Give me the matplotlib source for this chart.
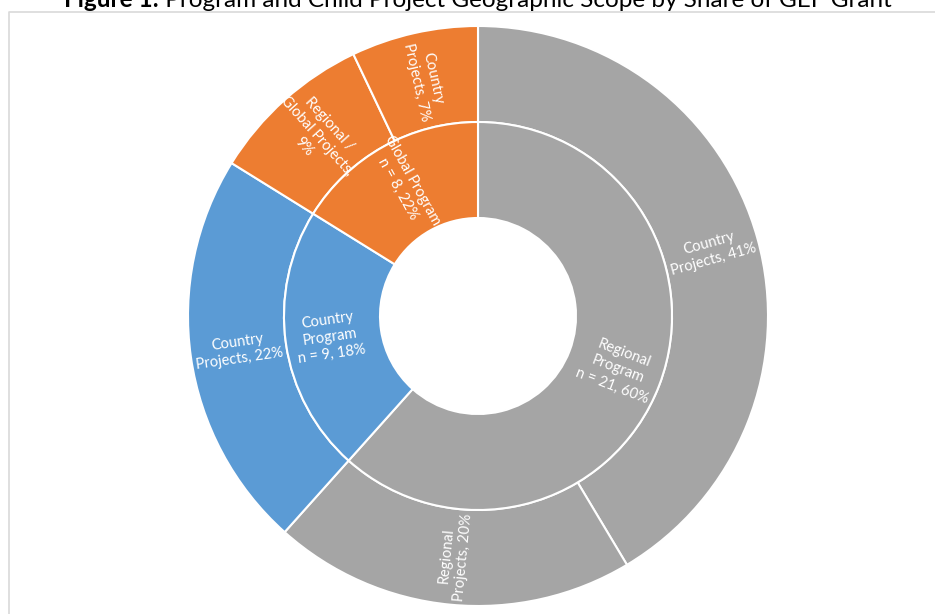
import matplotlib
matplotlib.use("Agg")
import matplotlib.pyplot as plt
import numpy as np

plt.rcParams['font.family'] = ['Lato', 'DejaVu Sans']

# outer ring: child projects (share of GEF grant)
outer_labels = ["Country\nProjects, 41%", "Regional\nProjects, 20%", "Country\nProjects, 22%",
                "Regional /\nGlobal Projects,\n9%", "Country\nProjects, 7%"]
outer_values = [41, 20, 22, 9, 7]
outer_colors = ["#A5A5A5", "#A5A5A5", "#5B9BD5", "#ED7D31", "#ED7D31"]

# inner ring: programs
inner_labels = ["Regional\nProgram\nn = 21, 60%", "Country\nProgram\nn = 9, 18%", "Global Program\nn = 8, 22%"]
inner_values = [61, 22, 16]
inner_colors = ["#A5A5A5", "#5B9BD5", "#ED7D31"]

title_bold = "Figure 1:"
title_rest = " Program and Child Project Geographic Scope by Share of GEF Grant"

W, H = 935, 614
fig = plt.figure(figsize=(W / 100, H / 100), dpi=100)
ax = fig.add_axes([0, 0, 1, 1])
ax.set_xlim(0, W)
ax.set_ylim(0, H)
ax.set_aspect('equal')
ax.axis('off')

cx, cy = 478, H - 316
r_out, r_mid, r_hole = 290, 194, 98

ax.pie(outer_values, colors=outer_colors, radius=r_out, center=(cx, cy), startangle=90,
       counterclock=False, wedgeprops=dict(width=r_out - r_mid, edgecolor='white', linewidth=1.5))
ax.pie(inner_values, colors=inner_colors, radius=r_mid, center=(cx, cy), startangle=90,
       counterclock=False, wedgeprops=dict(width=r_mid - r_hole, edgecolor='white', linewidth=1.5))
ax.set_xlim(0, W)
ax.set_ylim(0, H)


def put_labels(values, labels, radius):
    total = float(sum(values))
    cum = 0
    for v, lab in zip(values, labels):
        mid = (cum + v / 2) / total
        cum += v
        theta = 90 - 360 * mid
        x = cx + radius * np.cos(np.radians(theta))
        y = cy + radius * np.sin(np.radians(theta))
        rot = (theta + 180) % 360 - 180
        if rot > 90:
            rot -= 180
        elif rot <= -90:
            rot += 180
        ax.text(x, y, lab, color='white', fontsize=10.5, ha='center', va='center',
                multialignment='center', rotation=rot, rotation_mode='anchor', linespacing=1.3)


put_labels(outer_values, outer_labels, (r_out + r_mid) / 2)
put_labels(inner_values, inner_labels, (r_mid + r_hole) / 2 + 4)

# frame of the chart area
ax.plot([8.5, 8.5, W + 5], [-5, H - 11.5, H - 11.5], color='#D9D9D9', lw=1.2, clip_on=False)

# title with bold prefix
fig.canvas.draw()
rend = fig.canvas.get_renderer()
t1 = ax.text(0, H - 7, title_bold, fontsize=17.5, fontweight='bold', va='baseline', ha='left')
t2 = ax.text(0, H - 7, title_rest, fontsize=17.5, va='baseline', ha='left')
w1 = t1.get_window_extent(rend).width
w2 = t2.get_window_extent(rend).width
x0 = cx - (w1 + w2) / 2
t1.set_x(x0)
t2.set_x(x0 + w1)

fig.savefig("out.png", dpi=100)
